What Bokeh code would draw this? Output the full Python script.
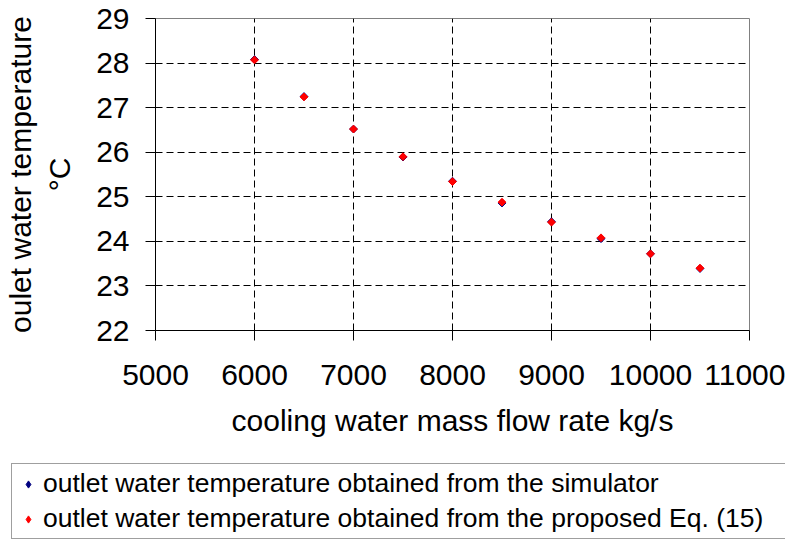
import numpy as np
from bokeh.plotting import figure
from bokeh.layouts import column
from bokeh.models import Legend, LegendItem, FixedTicker, Range1d
from bokeh.embed import file_html
from bokeh.resources import INLINE

# ---- data ----
flow_rate = [6000, 6500, 7000, 7500, 8000, 8500, 9000, 9500, 10000, 10500]
temp_simulator = [28.08, 27.25, 26.52, 25.89, 25.35, 24.86, 24.44, 24.06, 23.72, 23.39]
temp_equation = [28.07, 27.24, 26.52, 25.90, 25.34, 24.88, 24.43, 24.08, 23.72, 23.40]
x_ticks = [5000, 6000, 7000, 8000, 9000, 10000, 11000]
y_ticks = [22, 23, 24, 25, 26, 27, 28, 29]
x_label = "cooling water mass flow rate kg/s"
y_label = "oulet water temperature\n°C"
legend_labels = [
    "outlet water temperature obtained from the simulator",
    "outlet water temperature obtained from the proposed Eq. (15)",
]
series_colors = ["#000080", "#ff0000"]
series_values = [temp_simulator, temp_equation]

FONT = "Liberation Sans"
W = 785

p = figure(
    width=W, height=462,
    output_backend="svg", toolbar_location=None,
    x_range=Range1d(5000, 11000), y_range=Range1d(22, 29),
    min_border_left=154, min_border_right=36,
    min_border_top=18, min_border_bottom=132,
    background_fill_color="white", border_fill_color="white",
)
p.frame_align = False
p.outline_line_color = "#808080"
p.outline_line_width = 1

for ax in (p.xaxis, p.yaxis):
    ax.axis_line_color = "black"
    ax.axis_line_width = 1
    ax.major_tick_line_color = "black"
    ax.major_tick_out = 10
    ax.major_tick_in = 0
    ax.minor_tick_line_color = None
    ax.major_label_text_font = FONT
    ax.major_label_text_font_size = "30px"
    ax.major_label_text_color = "black"
    ax.axis_label_text_font = FONT
    ax.axis_label_text_font_size = "30px"
    ax.axis_label_text_font_style = "normal"
    ax.axis_label_text_color = "black"

p.xaxis.ticker = FixedTicker(ticks=x_ticks)
p.yaxis.ticker = FixedTicker(ticks=y_ticks)
p.xaxis.axis_label = x_label
p.yaxis.axis_label = y_label
p.xaxis.major_label_standoff = 24
p.xaxis.axis_label_standoff = 16
p.yaxis.major_label_standoff = 16
p.yaxis.axis_label_standoff = 17

for g in (p.xgrid, p.ygrid):
    g.grid_line_color = "black"
    g.grid_line_dash = "7 4"
    g.grid_line_width = 1
p.xgrid.ticker = FixedTicker(ticks=x_ticks)
p.ygrid.ticker = FixedTicker(ticks=y_ticks)

for vals, c in zip(series_values, series_colors):
    p.scatter(flow_rate, vals, marker="square", angle=np.pi / 4,
              size=5.5, fill_color=c, line_color=c)

# ---- legend strip below the chart (its own small canvas; the series are
#      drawn there too but fall outside its 0..1 view, only their keys show) ----
pl = figure(
    width=W, height=78,
    output_backend="svg", toolbar_location=None,
    x_axis_location=None, y_axis_location=None,
    x_range=Range1d(0, 1), y_range=Range1d(0, 1),
    min_border_left=0, min_border_right=0, min_border_top=0, min_border_bottom=0,
    background_fill_color="white", border_fill_color="white",
)
pl.frame_align = False
pl.outline_line_color = None
pl.xgrid.visible = False
pl.ygrid.visible = False
leg_renderers = [
    pl.scatter(flow_rate, vals, marker="diamond", size=7,
               fill_color=c, line_color=c)
    for vals, c in zip(series_values, series_colors)
]
legend = Legend(
    items=[LegendItem(label=lab, renderers=[r]) for lab, r in zip(legend_labels, leg_renderers)],
    location=(11, 1),
    orientation="vertical",
    border_line_color="#404040", border_line_width=1,
    background_fill_color="white", background_fill_alpha=1.0,
    label_text_font=FONT, label_text_font_size="26.5px", label_text_color="black",
    glyph_width=24, glyph_height=18,
    label_standoff=3, padding=4, spacing=4, margin=0,
    label_width=738,
)
pl.add_layout(legend, "center")

layout = column(p, pl, spacing=0)
open("out.html", "w").write(file_html(layout, INLINE))
